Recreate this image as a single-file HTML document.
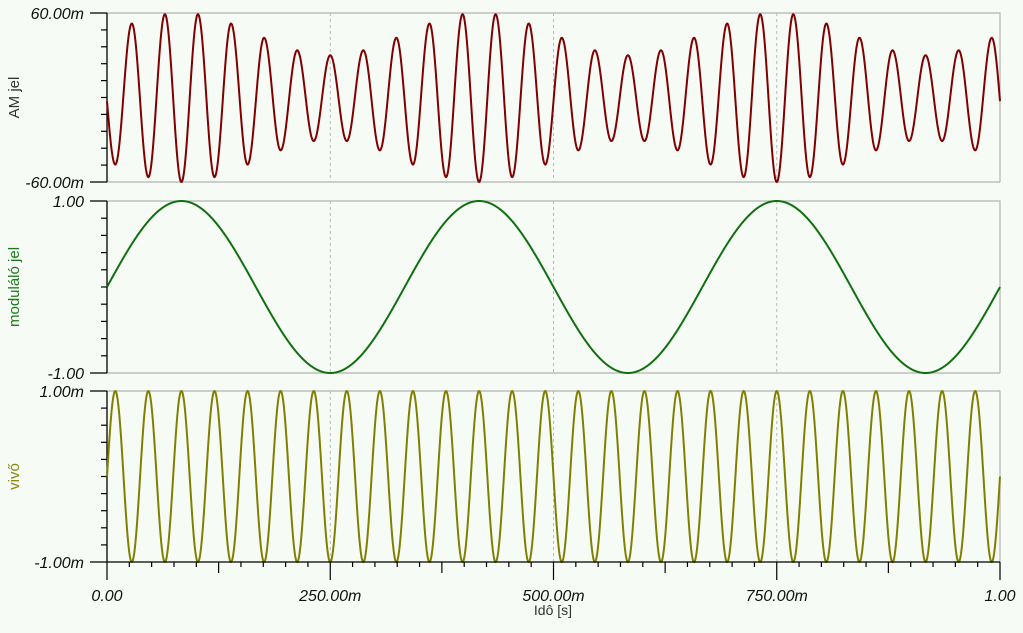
<!DOCTYPE html>
<html><head><meta charset="utf-8">
<style>
html,body{margin:0;padding:0;background:#f6fbf6;}
svg{display:block;font-family:"Liberation Sans",sans-serif;}
.tl{font-size:16px;font-style:italic;fill:#111;}
</style></head>
<body>
<svg id="chart" width="1023" height="633" viewBox="0 0 1023 633" xmlns="http://www.w3.org/2000/svg">
<rect x="0" y="0" width="1023" height="633" fill="#f6fbf6"/>
<g id="panels"></g>
<text x="553" y="615" text-anchor="middle" font-size="14" fill="#333">Idô [s]</text>
</svg>
<script>
// x-axis ticks
const xTickValues = [0, 0.25, 0.5, 0.75, 1];
const xTickLabels = ["0.00", "250.00m", "500.00m", "750.00m", "1.00"];
// extrema (peak/trough) values of carrier, read per half-cycle, including one virtual point each side
const carrierPeriod = 1/27;
const carrierExtrema = [-1, 1,-1,1,-1,1,-1,1,-1,1,-1,1,-1,1,-1,1,-1,1,-1, 1,-1,1,-1,1,-1,1,-1,1,-1,1,-1,1,-1,1,-1,1,-1, 1,-1,1,-1,1,-1,1,-1,1,-1,1,-1,1,-1,1,-1,1,-1, 1];
const amExtrema = [42.4,
 -47.6,52.5,-56.5,59.1,-60,59.1,-56.5,52.5,-47.6,42.4,-37.5,33.5,-30.9,30,-30.9,33.5,-37.5,42.4,
 -47.6,52.5,-56.5,59.1,-60,59.1,-56.5,52.5,-47.6,42.4,-37.5,33.5,-30.9,30,-30.9,33.5,-37.5,42.4,
 -47.6,52.5,-56.5,59.1,-60,59.1,-56.5,52.5,-47.6,42.4,-37.5,33.5,-30.9,30,-30.9,33.5,-37.5,42.4,
 -47.6];
const modPeriod = 1/3;
const modExtrema = [-1, 1, -1, 1, -1, 1, -1, 1];

const X0 = 107, X1 = 1000;
const xs = t => X0 + (X1 - X0) * t;
const NS = "http://www.w3.org/2000/svg";
const root = document.getElementById('panels');
function mk(tag, attrs, parent){const e=document.createElementNS(NS,tag);for(const k in attrs)e.setAttribute(k,attrs[k]);(parent||root).appendChild(e);return e;}

const panels = [
 {name:'am-jel', top:13, bot:182, min:-60, max:60, lab:['60.00m','-60.00m'], title:'AM jel', color:'#800000', tcolor:'#333', ext:amExtrema, per:carrierPeriod},
 {name:'modulalo-jel', top:201, bot:373, min:-1, max:1, lab:['1.00','-1.00'], title:'moduláló jel', color:'#107010', tcolor:'#1a7a1a', ext:modExtrema, per:modPeriod},
 {name:'vivo', top:391, bot:562, min:-1, max:1, lab:['1.00m','-1.00m'], title:'vivő', color:'#808000', tcolor:'#8a8a10', ext:carrierExtrema, per:carrierPeriod}
];

panels.forEach((p, pi) => {
  const g = mk('g', {});
  
  
  const ys = v => p.bot - (v - p.min) / (p.max - p.min) * (p.bot - p.top);
  const frame = mk('path', {d:`M${X0} ${p.top}H${X1}V${p.bot}`, fill:'none', stroke:'#b4b4b4', 'stroke-width':1.2}, g);
  
  
  if (pi < 2) {
    const bl = mk('line', {x1:X0, x2:X1, y1:p.bot, y2:p.bot, stroke:'#b4b4b4', 'stroke-width':1.2}, g);
    
    
  }
  [0.25, 0.5, 0.75].forEach(t => {
    const gl = mk('line', {x1:xs(t), x2:xs(t), y1:p.top, y2:p.bot, stroke:'#b8b8b8', 'stroke-dasharray':'3,3'}, g);
    
    
  });
  const ax = mk('line', {x1:X0, x2:X0, y1:p.top, y2:p.bot, stroke:'#000', 'stroke-width':1.3}, g);
  
  
  for (let i = 0; i <= 10; i++) {
    const v = p.min + (p.max - p.min) * i / 10;
    const len = (i === 0 || i === 10) ? 17 : 6;
    mk('line', {x1:X0 - len, x2:X0, y1:ys(v), y2:ys(v), stroke:'#000', 'stroke-width':1.2}, g);
  }
  const t1 = mk('text', {x:84, y:p.top + 6, 'text-anchor':'end', class:'tl'}, g);
  t1.textContent = p.lab[0];
  
  
  const t2 = mk('text', {x:84, y:p.bot + 6, 'text-anchor':'end', class:'tl'}, g);
  t2.textContent = p.lab[1];
  
  
  const cy = (p.top + p.bot) / 2;
  const yt = mk('text', {x:19, y:cy, 'text-anchor':'middle', 'font-size':15, fill:p.tcolor, transform:`rotate(-90 19 ${cy})`}, g);
  yt.textContent = p.title;
  
  
  const half = p.per / 2;
  const t0 = -p.per / 4;
  let d = '';
  const N = 2400;
  for (let s = 0; s <= N; s++) {
    const t = s / N;
    let k = Math.floor((t - t0) / half);
    k = Math.max(0, Math.min(p.ext.length - 2, k));
    const u = (t - (t0 + k * half)) / half;
    const v = p.ext[k] + (p.ext[k + 1] - p.ext[k]) * (1 - Math.cos(Math.PI * u)) / 2;
    d += (s ? 'L' : 'M') + xs(t).toFixed(2) + ' ' + ys(v).toFixed(2);
  }
  const line = mk('path', {d, fill:'none', stroke:p.color, 'stroke-width':2}, g);
  
  
});

const xg = mk('g', {});


mk('line', {x1:X0, x2:X1, y1:562, y2:562, stroke:'#000', 'stroke-width':1.3}, xg);
for (let i = 0; i <= 40; i++) {
  const len = i % 10 === 0 ? 18 : (i % 5 === 0 ? 11 : 5);
  mk('line', {x1:xs(i/40), x2:xs(i/40), y1:562, y2:562 + len, stroke:'#000', 'stroke-width':1.2}, xg);
}
xTickValues.forEach((v, i) => {
  const t = mk('text', {x:xs(v), y:601, 'text-anchor':'middle', class:'tl'}, xg);
  t.textContent = xTickLabels[i];
  
  
});
</script>
</body></html>
